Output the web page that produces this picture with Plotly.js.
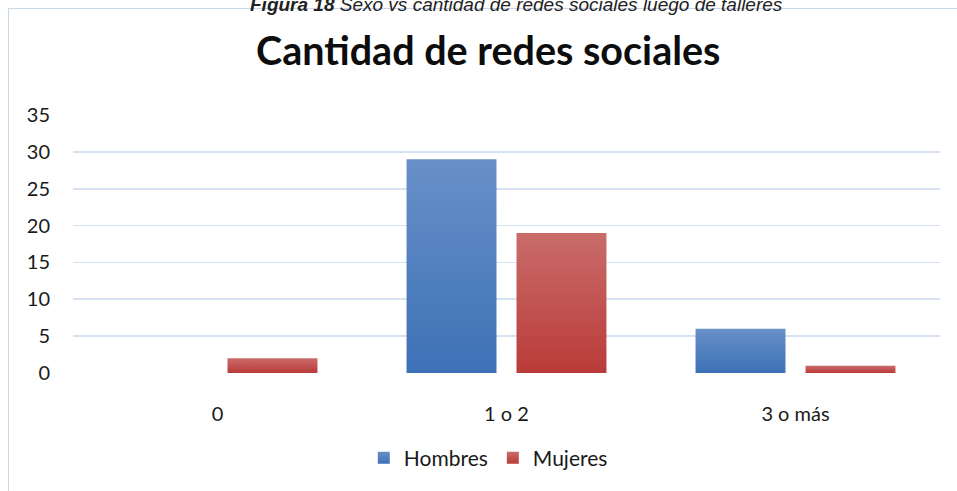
<!DOCTYPE html>
<html><head><meta charset="utf-8">
<script src="https://cdn.plot.ly/plotly-3.0.1.min.js"></script>
<style>
html,body{margin:0;padding:0;background:#fff;overflow:hidden;}
#frame{position:absolute;left:8px;top:8px;width:1100px;height:700px;border:1.5px solid #c9d7ea;box-sizing:border-box;}
#chart{position:absolute;left:0;top:0;width:957px;height:491px;}
</style></head>
<body>
<div id="frame"></div>
<div id="chart"></div>
<svg width="0" height="0" style="position:absolute">
  <defs>
    <linearGradient id="gBlue" x1="0" y1="0" x2="0" y2="1">
      <stop offset="0" stop-color="#6890c8"/><stop offset="1" stop-color="#3d71b6"/>
    </linearGradient>
    <linearGradient id="gRed" x1="0" y1="0" x2="0" y2="1">
      <stop offset="0" stop-color="#c96c6a"/><stop offset="1" stop-color="#ba3b39"/>
    </linearGradient>
  </defs>
</svg>
<script>
const categories = ["0", "1 o 2", "3 o más"];
const hombres = [0, 29, 6];
const mujeres = [2, 19, 1];
const seriesNames = ["Hombres", "Mujeres"];
const yTicks = [0, 5, 10, 15, 20, 25, 30, 35];

const traces = [
  {type:'bar', name:seriesNames[0], x:categories, y:hombres, marker:{color:'#4f7fbf'}},
  {type:'bar', name:seriesNames[1], x:categories, y:mujeres, marker:{color:'#c14f4d'}}
];
const layout = {
  width:957, height:491,
  paper_bgcolor:'rgba(0,0,0,0)', plot_bgcolor:'rgba(0,0,0,0)',
  margin:{l:73, r:17, t:115, b:114},
  barmode:'group', bargap:0.239, bargroupgap:0.182,
  font:{family:'Lato, Calibri, sans-serif', size:20, color:'#1a1a1a'},
  title:{text:'<b>Cantidad de redes sociales</b>', font:{family:'Lato, Calibri, sans-serif', size:39.5, color:'#0d0d0d'},
         x:0.479, xanchor:'center', xref:'paper', y:0.896, yanchor:'middle', yref:'container'},
  xaxis:{type:'category', showgrid:false, zeroline:false, showline:false, ticks:'',
         ticklabelstandoff:27, tickfont:{size:20, color:'#1a1a1a'}},
  yaxis:{range:[0,35], tickvals:yTicks, showgrid:true, gridcolor:'#d6e2f2', gridwidth:1.8,
         zeroline:false, showline:false, ticks:'', ticklabelstandoff:22, tickfont:{size:20, color:'#1a1a1a'}},
  showlegend:true,
  legend:{orientation:'h', x:0.479, xanchor:'center', y:-0.33, yanchor:'middle',
          font:{size:21, color:'#1a1a1a'}, itemwidth:30, traceorder:'normal'},
  annotations:[{text:'<b><i>Figura 18</i></b> <i>Sexo vs cantidad de redes sociales luego de talleres</i>',
    xref:'paper', yref:'paper', x:0.512, y:1, yshift:111, xanchor:'center', yanchor:'middle', showarrow:false,
    font:{family:'Liberation Sans, Arial, sans-serif', size:19, color:'#222'}}]
};
Plotly.newPlot('chart', traces, layout, {displayModeBar:false, staticPlot:true}).then(function(){
  const grads = ['url(#gBlue)', 'url(#gRed)'];
  document.querySelectorAll('#chart .barlayer .trace').forEach(function(t, i){
    t.querySelectorAll('path').forEach(function(p){ p.style.fill = grads[i]; });
  });
  document.querySelectorAll('#chart .legend .traces').forEach(function(t, i){
    t.querySelectorAll('.legendpoints path').forEach(function(p){ p.style.fill = grads[i]; });
  });
});
</script>
</body></html>
